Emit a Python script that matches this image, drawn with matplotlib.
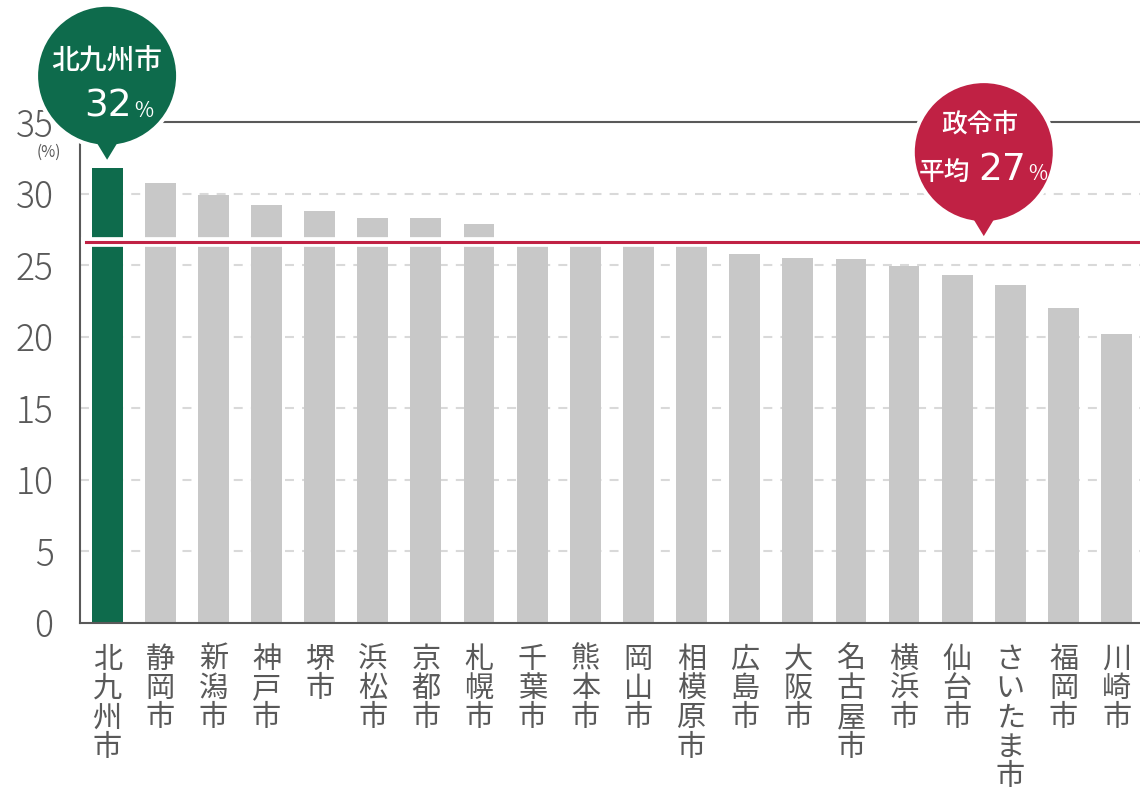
import matplotlib
matplotlib.use('Agg')
import matplotlib.pyplot as plt
from matplotlib.patches import Circle, Polygon

cities = ['北九州市', '静岡市', '新潟市', '神戸市', '堺市', '浜松市', '京都市', '札幌市',
          '千葉市', '熊本市', '岡山市', '相模原市', '広島市', '大阪市', '名古屋市', '横浜市',
          '仙台市', 'さいたま市', '福岡市', '川崎市']
rates = [31.8, 30.7, 29.9, 29.2, 28.8, 28.3, 28.3, 27.9,
         26.8, 26.6, 26.5, 26.3, 25.8, 25.5, 25.4, 24.9,
         24.3, 23.6, 22.0, 20.2]
avg_rate = 26.6
y_ticks = [0, 5, 10, 15, 20, 25, 30, 35]
highlight = 0
highlight_name = '北九州市'
highlight_pct = '32'
avg_name = '政令市'
avg_prefix = '平均'
avg_pct = '27'

GREEN = '#0e6b4c'
RED = '#c02144'
BAR_GRAY = '#c8c8c8'
TEXT = '#595959'
GRID = '#d9d9d9'

plt.rcParams['font.family'] = ['Noto Sans CJK JP', 'DejaVu Sans']

W, H = 1140, 796
fig = plt.figure(figsize=(W / 100, H / 100), dpi=100)
ax = fig.add_axes([80 / W, 1 - 622.5 / H, 1 - 80 / W, (622.5 - 122) / H])

xs = list(range(len(cities)))
colors = [GREEN if i == highlight else BAR_GRAY for i in xs]
ax.bar(xs, rates, width=0.58, color=colors, zorder=2)
ax.set_xlim(-0.51, 19.44)
ax.set_ylim(0, 35)

# dashed grid behind the bars
for t in y_ticks[1:-1]:
    ax.axhline(t, color=GRID, lw=1.5, ls=(0, (4.3, 3.9)), zorder=1)

# average line with a white halo cutting the bars
ax.axhline(avg_rate, xmin=0.006, xmax=0.998, color='white', lw=7, zorder=3)
ax.axhline(avg_rate, xmin=0.006, xmax=0.998, color=RED, lw=2.2, zorder=4)

for side in ['left', 'bottom', 'top']:
    ax.spines[side].set_color(TEXT)
    ax.spines[side].set_linewidth(1.5)
ax.spines['right'].set_visible(False)

ax.set_yticks(y_ticks)
ax.tick_params(axis='y', length=0, pad=19, labelsize=25.5, labelcolor=TEXT)
ax.set_xticks(xs, ['\n'.join(c) for c in cities], linespacing=0.97)
ax.tick_params(axis='x', length=0, pad=16, labelsize=21, labelcolor=TEXT)
for lab in ax.get_yticklabels():
    lab.set_fontweight('light')

fig.text(49 / W, 1 - 152 / H, '(%)', ha='center', va='center', fontsize=11, color=TEXT)

# overlay in pixel coordinates for the speech bubbles
ov = fig.add_axes([0, 0, 1, 1], zorder=10)
ov.set_xlim(0, W)
ov.set_ylim(H, 0)
ov.axis('off')


def to_px(xd, yd):
    px, py = ax.transData.transform((xd, yd))
    return px, H - py


def bubble(tip_x, tip_y, color):
    cx, cy = tip_x, tip_y - 84
    r = 69
    tri = [(cx - 14, cy + r - 8), (cx + 14, cy + r - 8), (tip_x, tip_y)]
    for fc, ec, lw in [('white', 'white', 6), (color, 'none', 0)]:
        ov.add_patch(Circle((cx, cy), r, fc=fc, ec=ec, lw=lw))
        ov.add_patch(Polygon(tri, closed=True, fc=fc, ec=ec, lw=lw, joinstyle='round'))
    return cx, cy


num_font = dict(family='DejaVu Sans', fontsize=27, color='white')

tx, ty = to_px(highlight, rates[highlight])
gx, gy = bubble(tx, ty - 8, GREEN)
ov.text(gx, gy - 15, highlight_name, color='white', fontsize=20, fontweight='medium',
        ha='center', va='center')
ov.text(gx + 25, gy + 41, highlight_pct, ha='right', va='baseline', **num_font)
ov.text(gx + 27, gy + 41, '%', color='white', fontsize=15, ha='left', va='baseline')

tx, ty = to_px(16.5, avg_rate)
rx, ry = bubble(tx, ty - 6, RED)
ov.text(rx - 4, ry - 28, avg_name, color='white', fontsize=18.5, fontweight='medium',
        ha='center', va='center')
ov.text(rx - 14, ry + 28, avg_prefix, color='white', fontsize=18.5, fontweight='medium',
        ha='right', va='baseline')
ov.text(rx + 42, ry + 28, avg_pct, ha='right', va='baseline', **num_font)
ov.text(rx + 44, ry + 28, '%', color='white', fontsize=15, ha='left', va='baseline')

fig.savefig('out.png', dpi=100)
